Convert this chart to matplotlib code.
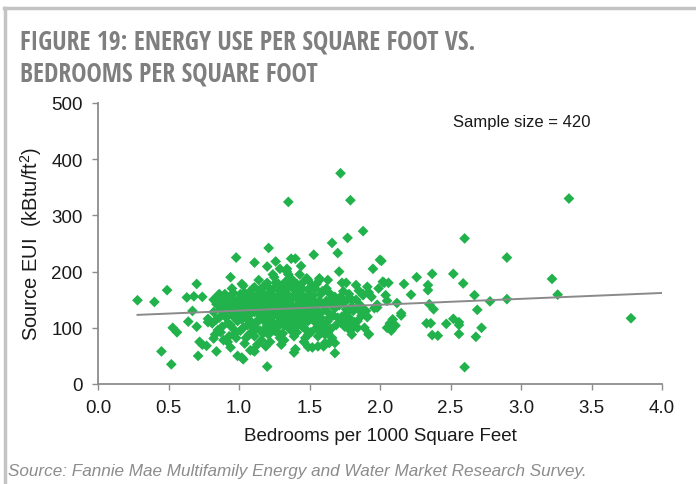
import matplotlib
matplotlib.use("Agg")
import matplotlib.pyplot as plt
from matplotlib.lines import Line2D

# ---------------- data ----------------
sparse_pts = [
    (0.28, 149), (0.40, 146), (0.49, 167), (0.45, 58), (0.52, 35), (0.53, 100), (0.56, 92),
    (0.63, 154), (0.68, 156), (0.74, 155), (0.70, 178), (0.67, 130), (0.64, 111), (0.70, 102),
    (0.78, 116), (0.78, 110), (0.72, 75), (0.74, 70), (0.77, 68), (0.82, 81), (0.71, 50),
    (0.84, 58), (0.99, 50), (1.02, 47), (1.03, 44), (0.98, 225), (0.94, 190), (1.02, 178),
    (0.85, 157), (0.90, 160), (1.11, 216), (1.20, 209), (1.21, 242), (1.26, 218), (1.37, 223),
    (1.40, 223), (1.44, 210), (1.29, 205), (1.34, 205), (1.35, 324), (1.20, 31), (1.11, 58),
    (1.19, 67), (1.10, 60), (1.30, 70), (1.40, 62), (1.49, 66),
    (1.72, 375), (1.79, 327), (1.88, 272), (1.77, 260), (1.66, 251), (1.70, 233), (1.53, 230),
    (1.95, 205), (1.71, 200), (1.49, 185), (1.57, 185), (1.63, 185), (1.73, 180), (1.76, 180),
    (1.83, 176), (1.85, 166), (1.91, 173), (1.88, 160), (1.76, 133), (1.77, 115), (1.77, 108),
    (1.82, 110), (1.79, 100), (1.92, 89), (1.90, 130), (1.91, 120), (1.60, 105), (1.63, 92),
    (1.65, 98), (1.61, 73), (1.64, 73), (1.68, 73), (1.68, 55), (1.52, 65), (1.56, 67),
    (1.60, 67), (1.39, 56), (1.80, 88), (1.84, 100), (1.76, 117),
    (2.00, 221), (2.01, 219), (2.02, 182), (1.99, 170), (2.04, 158), (2.05, 148), (1.98, 136),
    (1.96, 135), (1.98, 141), (1.92, 163), (1.94, 155), (2.03, 180), (2.06, 180), (2.12, 144),
    (2.15, 126), (2.15, 122), (2.17, 178), (2.22, 159), (2.26, 190), (2.37, 196), (2.34, 176),
    (2.34, 167), (2.35, 142), (2.38, 133), (2.33, 108), (2.36, 108), (2.37, 87), (2.41, 86),
    (2.47, 107), (2.05, 100), (2.07, 108), (2.09, 115), (2.11, 104), (2.08, 95), (1.89, 131),
    (1.91, 119), (1.92, 88), (2.60, 259), (2.52, 196), (2.59, 179), (2.67, 158), (2.78, 147),
    (2.90, 151), (2.69, 132), (2.52, 116), (2.56, 110), (2.56, 105), (2.72, 100), (2.56, 89),
    (2.68, 84), (2.60, 30), (2.90, 225), (3.34, 330), (3.22, 187), (3.26, 159), (3.78, 117),
]

dense_pts = [
    # 0.80-0.90
    (0.82, 128), (0.84, 142), (0.86, 118), (0.88, 150), (0.81, 108), (0.85, 96), (0.87, 133),
    (0.89, 124), (0.83, 88), (0.86, 160), (0.88, 102), (0.90, 140), (0.84, 115), (0.89, 78),
    (0.82, 150), (0.87, 92),
    # 0.90-1.00
    (0.91, 118), (0.92, 135), (0.93, 148), (0.94, 105), (0.95, 127), (0.96, 162), (0.97, 90),
    (0.98, 140), (0.99, 112), (0.92, 75), (0.94, 155), (0.96, 98), (0.98, 125), (0.91, 142),
    (0.93, 85), (0.95, 170), (0.97, 131), (0.99, 150), (0.92, 108), (0.94, 65), (0.96, 120),
    (0.98, 82), (1.00, 138), (0.95, 145),
    # 1.00-1.10
    (1.01, 125), (1.02, 150), (1.03, 100), (1.04, 162), (1.05, 118), (1.06, 135), (1.07, 88),
    (1.08, 145), (1.09, 110), (1.10, 170), (1.01, 95), (1.02, 140), (1.03, 130), (1.04, 72),
    (1.05, 155), (1.06, 105), (1.07, 122), (1.08, 165), (1.09, 92), (1.10, 138), (1.02, 115),
    (1.03, 175), (1.05, 82), (1.06, 148), (1.07, 132), (1.08, 60), (1.09, 158), (1.04, 120),
    (1.01, 160), (1.10, 100),
    # 1.10-1.20
    (1.11, 128), (1.12, 145), (1.13, 110), (1.14, 160), (1.15, 95), (1.16, 135), (1.17, 120),
    (1.18, 175), (1.19, 140), (1.20, 105), (1.11, 85), (1.12, 152), (1.13, 130), (1.14, 115),
    (1.15, 168), (1.16, 78), (1.17, 148), (1.18, 125), (1.19, 100), (1.20, 158), (1.11, 172),
    (1.12, 98), (1.13, 140), (1.14, 185), (1.15, 122), (1.16, 155), (1.17, 90), (1.18, 112),
    (1.19, 132), (1.20, 180), (1.13, 70), (1.15, 142), (1.17, 162), (1.19, 115),
    # 1.20-1.30
    (1.21, 130), (1.22, 150), (1.23, 112), (1.24, 168), (1.25, 95), (1.26, 140), (1.27, 122),
    (1.28, 178), (1.29, 105), (1.30, 145), (1.21, 88), (1.22, 118), (1.23, 160), (1.24, 135),
    (1.25, 190), (1.26, 102), (1.27, 155), (1.28, 128), (1.29, 82), (1.30, 165), (1.21, 172),
    (1.22, 100), (1.23, 140), (1.24, 120), (1.25, 150), (1.26, 180), (1.27, 92), (1.28, 138),
    (1.29, 158), (1.30, 115), (1.22, 75), (1.24, 195), (1.26, 125), (1.28, 108), (1.23, 132),
    (1.27, 170),
    # 1.30-1.40
    (1.31, 135), (1.32, 152), (1.33, 118), (1.34, 170), (1.35, 100), (1.36, 142), (1.37, 125),
    (1.38, 185), (1.39, 110), (1.40, 160), (1.31, 90), (1.32, 128), (1.33, 162), (1.34, 140),
    (1.35, 195), (1.36, 108), (1.37, 150), (1.38, 130), (1.39, 85), (1.40, 120), (1.31, 175),
    (1.32, 105), (1.33, 145), (1.34, 122), (1.35, 158), (1.36, 178), (1.37, 95), (1.38, 138),
    (1.39, 168), (1.40, 100), (1.32, 78), (1.34, 200), (1.36, 132), (1.38, 112), (1.33, 182),
    (1.37, 115),
    # 1.40-1.50
    (1.41, 140), (1.42, 155), (1.43, 120), (1.44, 172), (1.45, 102), (1.46, 145), (1.47, 128),
    (1.48, 188), (1.49, 112), (1.50, 160), (1.41, 92), (1.42, 130), (1.43, 165), (1.44, 135),
    (1.45, 180), (1.46, 110), (1.47, 150), (1.48, 125), (1.49, 88), (1.50, 135), (1.41, 178),
    (1.42, 108), (1.43, 148), (1.44, 118), (1.45, 158), (1.46, 75), (1.47, 98), (1.48, 142),
    (1.49, 168), (1.50, 115), (1.43, 195), (1.47, 82),
    # 1.50-1.60
    (1.51, 130), (1.52, 150), (1.53, 115), (1.54, 170), (1.55, 100), (1.56, 142), (1.57, 125),
    (1.58, 160), (1.59, 108), (1.60, 138), (1.51, 92), (1.52, 120), (1.53, 158), (1.54, 135),
    (1.55, 178), (1.56, 85), (1.57, 148), (1.58, 118), (1.59, 165), (1.60, 102), (1.52, 175),
    (1.54, 110), (1.56, 128), (1.58, 95), (1.53, 140), (1.57, 188),
    # 1.60-1.70
    (1.61, 132), (1.62, 148), (1.63, 112), (1.64, 162), (1.65, 98), (1.66, 140), (1.67, 122),
    (1.68, 155), (1.69, 105), (1.70, 145), (1.61, 88), (1.62, 170), (1.63, 128), (1.64, 118),
    (1.65, 150), (1.66, 82), (1.68, 135), (1.70, 118),
    # 1.70-1.80
    (1.71, 140), (1.72, 155), (1.73, 120), (1.74, 165), (1.75, 102), (1.76, 148), (1.77, 128),
    (1.78, 160), (1.79, 95), (1.80, 138), (1.72, 110), (1.74, 145), (1.78, 118), (1.80, 150),
    # 1.80-1.90
    (1.81, 130), (1.83, 150), (1.84, 112), (1.86, 140), (1.87, 122), (1.88, 158), (1.89, 100),
    (1.85, 132),
]

bedrooms = [p[0] for p in sparse_pts + dense_pts]
source_eui = [p[1] for p in sparse_pts + dense_pts]

trend_x = [0.28, 4.0]
trend_y = [123, 162]

x_ticks = [0.0, 0.5, 1.0, 1.5, 2.0, 2.5, 3.0, 3.5, 4.0]
y_ticks = [0, 100, 200, 300, 400, 500]

title_text = "FIGURE 19: ENERGY USE PER SQUARE FOOT VS.\nBEDROOMS PER SQUARE FOOT"
x_label = "Bedrooms per 1000 Square Feet"
y_label = "Source EUI  (kBtu/ft$^2$)"
sample_text = "Sample size = 420"
source_text = "Source: Fannie Mae Multifamily Energy and Water Market Research Survey."

# ---------------- drawing ----------------
plt.rcParams['font.family'] = ['Liberation Sans', 'DejaVu Sans']
plt.rcParams['mathtext.fontset'] = 'custom'
plt.rcParams['mathtext.rm'] = 'Liberation Sans'

W, H = 696, 485
fig = plt.figure(figsize=(W / 100, H / 100), dpi=100)
ax = fig.add_axes([98 / W, 1 - 385 / H, (662 - 98) / W, (385 - 104) / H])

green = '#21B24C'
gray_axis = '#8C8C8C'

ax.scatter(bedrooms, source_eui, marker='D', s=30, color=green, edgecolors='none', zorder=3)
ax.plot(trend_x, trend_y, color='#8A8A8A', lw=1.4, zorder=4)

ax.set_xlim(0, 4.0)
ax.set_ylim(0, 500)
ax.set_xticks(x_ticks)
ax.set_xticklabels([f"{v:.1f}" for v in x_ticks])
ax.set_yticks(y_ticks)
ax.set_yticklabels([str(v) for v in y_ticks])

for s in ['top', 'right']:
    ax.spines[s].set_visible(False)
for s in ['left', 'bottom']:
    ax.spines[s].set_color(gray_axis)
    ax.spines[s].set_linewidth(1.3)
ax.tick_params(axis='both', direction='out', length=4, width=1, color=gray_axis,
               labelsize=13.5, labelcolor='#1a1a1a', pad=7)

ax.set_xlabel(x_label, fontsize=13.5, color='#1a1a1a', labelpad=8)
ax.set_ylabel(y_label, fontsize=14.5, color='#1a1a1a', labelpad=5)

ax.text(0.63, 0.935, sample_text, transform=ax.transAxes, fontsize=12, color='#1a1a1a',
        ha='left', va='center')

fig.text(20 / W, 1 - 28 / H, title_text, fontsize=18.5, fontweight='bold',
         family=['Open Sans Condensed', 'Liberation Sans'], color='#7F7F7F',
         ha='left', va='top', linespacing=1.28)

fig.text(8 / W, 1 - 472 / H, source_text, fontsize=12.3, style='italic', color='#8C8C8C',
         ha='left', va='center')

# light gray frame lines (top and left)
fig.add_artist(Line2D([4 / W, 1.0], [1 - 9 / H, 1 - 9 / H], transform=fig.transFigure,
                      color='#C4C4C4', lw=2.5))
fig.add_artist(Line2D([5 / W, 5 / W], [0.0, 1 - 9 / H], transform=fig.transFigure,
                      color='#C4C4C4', lw=2.5))

fig.savefig('out.png', dpi=100)
